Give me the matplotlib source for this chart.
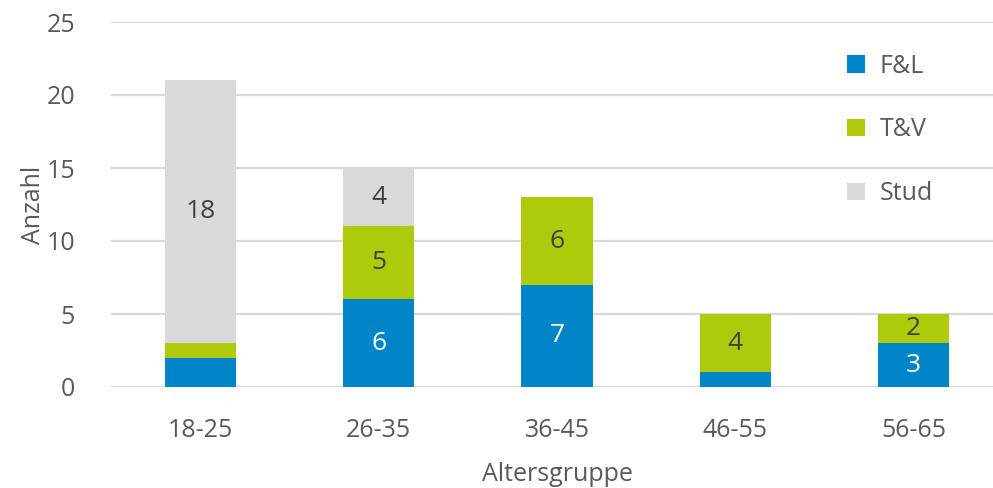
import matplotlib.pyplot as plt
import numpy as np

groups = ['18-25', '26-35', '36-45', '46-55', '56-65']
fl = [2, 6, 7, 1, 3]
tv = [1, 5, 6, 4, 2]
stud = [18, 4, 0, 0, 0]
# which segments carry a value label (small ones are left unlabeled)
fl_show = [False, True, True, False, True]
tv_show = [False, True, True, True, True]
stud_show = [True, True, False, False, False]

plt.rcParams['font.family'] = ['Open Sans', 'DejaVu Sans']
txt = '#595959'

fig = plt.figure(figsize=(9.93, 4.88), dpi=100)
ax = fig.add_axes([111 / 993, 1 - 387 / 488, (1003 - 111) / 993, (387 - 22) / 488])

x = np.arange(len(groups))
w = 0.40
b1 = ax.bar(x, fl, w, color='#0085C8', label='F&L', zorder=2)
b2 = ax.bar(x, tv, w, bottom=fl, color='#AFCA0B', label='T&V', zorder=2)
bottom2 = np.array(fl) + np.array(tv)
b3 = ax.bar(x, stud, w, bottom=bottom2, color='#D9D9D9', label='Stud', zorder=2)

for bars, vals, show, col in [(b1, fl, fl_show, 'white'), (b2, tv, tv_show, '#404040'),
                              (b3, stud, stud_show, '#404040')]:
    for rect, v, s in zip(bars, vals, show):
        if s:
            ax.text(rect.get_x() + rect.get_width() / 2, rect.get_y() + rect.get_height() / 2,
                    str(v), ha='center', va='center', color=col, fontsize=19)

ax.set_xlim(-0.5, 4.5)
ax.set_ylim(0, 25)
ax.set_yticks([0, 5, 10, 15, 20, 25])
ax.set_xticks(x)
ax.set_xticklabels(groups)
ax.tick_params(length=0, labelsize=18, colors=txt)
ax.tick_params(axis='x', pad=22)
ax.tick_params(axis='y', pad=26)
ax.yaxis.grid(True, color='#D9D9D9', lw=1.6, zorder=0)
for s in ax.spines.values():
    s.set_visible(False)
ax.set_xlabel('Altersgruppe', fontsize=18, color=txt, labelpad=14)
ax.set_ylabel('Anzahl', fontsize=18, color=txt, labelpad=0)

leg = ax.legend(loc='upper left', bbox_to_anchor=(0.8, 0.975), frameon=False, fontsize=18,
                labelcolor=txt, handlelength=0.7, handleheight=0.7, handletextpad=0.6,
                labelspacing=1.55)

fig.savefig('out.png', dpi=100)
